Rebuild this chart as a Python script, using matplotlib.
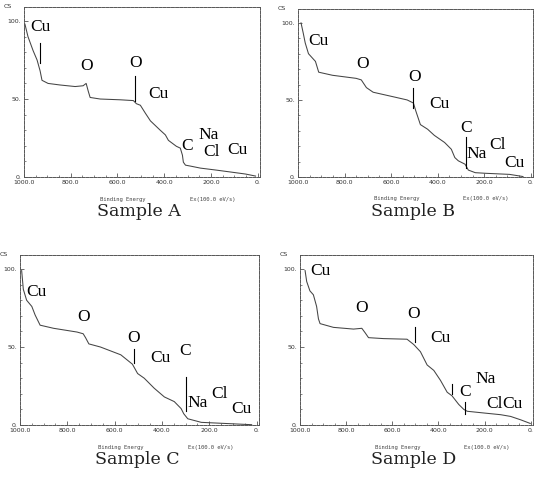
import matplotlib
matplotlib.use("Agg")
import matplotlib.pyplot as plt
from matplotlib.ticker import MultipleLocator

# XPS survey spectra, binding energy (eV) vs. relative counts
energy_a = [996, 983, 961, 944, 931, 923, 897, 846, 781, 747, 734, 725, 717, 674, 588, 532, 519, 502,
            481, 459, 438, 417, 395, 382, 365, 348, 331, 322, 318, 309, 288, 245, 181, 116, 52, 9]
counts_a = [98, 90, 81, 75, 68, 62, 60, 59, 58, 58.5, 60, 55, 51, 50, 49.5, 49, 47, 46,
            41, 36, 33, 30, 27, 23.5, 21.6, 19.7, 18.5, 14, 9.5, 7.6, 7, 5.7, 4.5, 3.2, 1.9, 0.6]

energy_b = [987, 977, 969, 955, 925, 911, 852, 750, 728, 706, 677, 589, 531, 504, 494, 474, 443,
            414, 370, 341, 326, 311, 282, 268, 238, 193, 91, 33]
counts_b = [100, 93, 87, 80, 75, 68, 66, 64, 63, 58, 55, 52, 50, 48, 43, 34, 31,
            27, 22.4, 18, 12.6, 10.5, 8.3, 4.5, 2.8, 2.4, 1.7, 0.3]

energy_c = [993, 986, 972, 950, 936, 915, 858, 759, 733, 723, 709, 660, 574, 525, 503, 475, 433,
            390, 348, 319, 308, 291, 234, 92, 21]
counts_c = [99, 87, 80, 76, 70.5, 64, 62, 59.6, 58.5, 56, 52, 50, 45, 39, 33, 30, 23.6,
            18, 15, 10.5, 7.2, 4, 1.7, 0.7, 0.2]

energy_d = [978, 971, 957, 942, 928, 920, 913, 855, 768, 732, 717, 703, 638, 536, 507, 478, 449,
            420, 391, 362, 341, 312, 290, 275, 203, 130, 87, 43, 2]
counts_d = [99, 92, 86, 83.5, 76, 68, 65, 62.6, 61.5, 62, 59, 56, 55.4, 55, 51.6, 47, 38.5,
            35, 28.6, 21, 18.7, 13.2, 10, 8.8, 7.7, 6.6, 5.5, 3.3, 1]

# peak labels: (text, energy, counts)
peaks_a = [("Cu", 931, 96), ("O", 734, 71), ("O", 524, 73), ("Cu", 425, 53.5),
           ("C", 301, 20), ("Na", 211, 27), ("Cl", 198, 16), ("Cu", 86, 17)]
peaks_b = [("Cu", 911, 88), ("O", 721, 73.6), ("O", 501, 65), ("Cu", 392, 47.5),
           ("C", 279, 32), ("Na", 231, 15), ("Cl", 143, 21), ("Cu", 70, 9)]
peaks_c = [("Cu", 929, 85), ("O", 731, 69), ("O", 520, 56), ("Cu", 407, 43),
           ("C", 301, 47.6), ("Na", 248, 13.8), ("Cl", 156, 20), ("Cu", 64, 10.5)]
peaks_d = [("Cu", 913, 99), ("O", 732, 75), ("O", 507, 71.4), ("Cu", 391, 56),
           ("Na", 196, 29.7), ("C", 283, 21), ("Cl", 159, 13.6), ("Cu", 80, 13.6)]

# marker lines under some labels: (energy, from, to)
ticks_a = [(931, 73, 86), (524, 49, 65)]
ticks_b = [(504, 45, 58), (278, 6, 26)]
ticks_c = [(520, 40, 49), (299, 9, 31)]
ticks_d = [(503, 53, 63), (283, 7, 15), (341, 20, 26)]

titles = ["Sample A", "Sample B", "Sample C", "Sample D"]
x_ticks = [1000, 800, 600, 400, 200, 0]
x_ticklabels = ["1000.0", "800.0", "600.0", "400.0", "200.0", "0."]
y_ticks = [0, 50, 100]
y_ticklabels = ["0.", "50.", "100."]

W, H = 536, 488
# frame boxes in pixels: left, top, right, bottom
boxes = [(24, 7, 260, 177), (298, 9, 533, 177), (20, 255, 259, 425), (300, 255, 533, 425)]

fig = plt.figure(figsize=(W / 100, H / 100), dpi=100)

panels = [
    (energy_a, counts_a, peaks_a, ticks_a),
    (energy_b, counts_b, peaks_b, ticks_b),
    (energy_c, counts_c, peaks_c, ticks_c),
    (energy_d, counts_d, peaks_d, ticks_d),
]

ink = "#444444"
for (e, c, peaks, marks), box, title in zip(panels, boxes, titles):
    l, t, r, b = box
    ax = fig.add_axes([l / W, 1 - b / H, (r - l) / W, (b - t) / H])
    ax.plot(e, c, color=ink, lw=0.75)
    for en, y0, y1 in marks:
        ax.plot([en, en], [y0, y1], color="black", lw=0.8)
    for txt, en, y in peaks:
        ax.text(en, y, txt, ha="center", va="center", fontsize=12.5,
                family="Liberation Serif", color="black")
    ax.set_xlim(1000, -10)
    ax.set_ylim(0, 109)
    ax.set_xticks(x_ticks)
    ax.set_xticklabels(x_ticklabels)
    ax.set_yticks(y_ticks)
    ax.set_yticklabels(y_ticklabels)
    ax.xaxis.set_minor_locator(MultipleLocator(50))
    ax.yaxis.set_minor_locator(MultipleLocator(10))
    ax.tick_params(which="both", direction="in", labelsize=4.5, colors="#555555",
                   labelcolor="#333333", pad=2)
    ax.tick_params(which="major", length=3, width=0.6)
    ax.tick_params(which="minor", length=1.5, width=0.5)
    for sp in ax.spines.values():
        sp.set_linestyle((0, (3, 1.2)))
        sp.set_linewidth(0.7)
        sp.set_color("#555555")
    ax.text(-0.07, 1.0, "CS", transform=ax.transAxes, fontsize=4.5,
            color="#333333", ha="center", va="center")
    ax.text(0.42, -0.13, "Binding Energy", transform=ax.transAxes, fontsize=4,
            color="#444444", ha="center", va="center", family="DejaVu Sans Mono")
    ax.text(0.8, -0.13, "Ex(100.0 eV/s)", transform=ax.transAxes, fontsize=4,
            color="#444444", ha="center", va="center", family="DejaVu Sans Mono")
    fig.text((l + r) / 2 / W - 0.005, 1 - (b + 35) / H, title, ha="center", va="center",
             fontsize=12.5, family="DejaVu Serif", color="#222222")

fig.savefig("out.png", dpi=100)
